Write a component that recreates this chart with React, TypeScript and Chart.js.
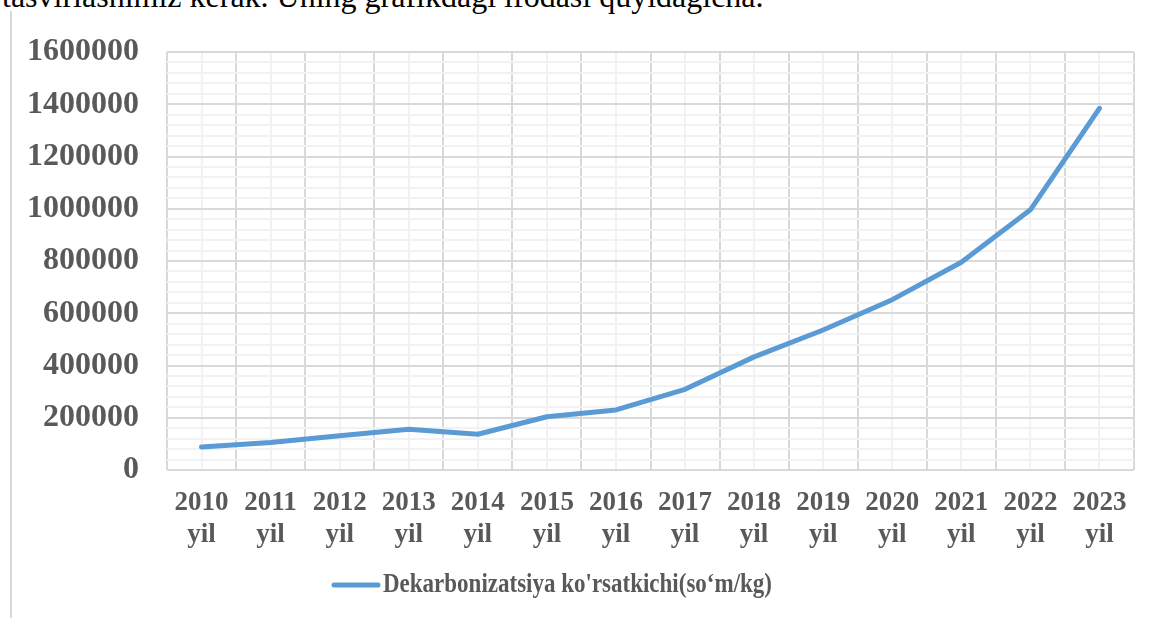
import React, { useEffect, useRef } from 'react';
import { Chart, registerables } from 'chart.js';

Chart.register(...registerables);

// ---- data ----
const years = ['2010', '2011', '2012', '2013', '2014', '2015', '2016', '2017', '2018', '2019', '2020', '2021', '2022', '2023'];
const yearSuffix = 'yil';
const values = [88000, 105000, 131000, 156000, 137000, 204000, 230000, 309000, 433000, 536000, 652000, 795000, 996000, 1384000];
const seriesLabel = "Dekarbonizatsiya ko'rsatkichi(so‘m/kg)";
const yMin = 0;
const yMax = 1600000;
const yMajorStep = 200000;
const yMinorStep = 40000;
const headerText = 'tasvirlashimiz kerak. Uning grafikdagi ifodasi quyidagicha.';

const FONT = '"Liberation Serif", "Times New Roman", serif';
const TEXT = '#595959';
const MAJOR = '#d9d9d9';
const MINOR = '#f2f2f2';
const LINE = '#5B9BD5';

const legendPlugin = {
  id: 'customLegend',
  afterDraw(chart: any) {
    const ctx = chart.ctx;
    const ds = chart.data.datasets[0];
    ctx.save();
    ctx.font = `bold 27px ${FONT}`;
    const rawW = ctx.measureText(ds.label).width;
    const targetW = 389;
    const sx = targetW / rawW;
    const lineW = 46;
    const gap = 5;
    const total = lineW + gap + targetW;
    const cx = 552;
    const y = 585;
    const x0 = cx - total / 2;
    ctx.strokeStyle = ds.borderColor;
    ctx.lineWidth = 5;
    ctx.lineCap = 'round';
    ctx.beginPath();
    ctx.moveTo(x0 + 2, y);
    ctx.lineTo(x0 + lineW, y);
    ctx.stroke();
    ctx.fillStyle = TEXT;
    ctx.textBaseline = 'middle';
    ctx.textAlign = 'left';
    ctx.translate(x0 + lineW + gap, y);
    ctx.scale(sx, 1);
    ctx.fillText(ds.label, 0, 0);
    ctx.restore();
  },
};

export default function App() {
  const ref = useRef<HTMLCanvasElement | null>(null);

  useEffect(() => {
    if (!ref.current) return;
    const chart = new Chart(ref.current, {
      type: 'line',
      data: {
        labels: years.map((y) => [y, yearSuffix]),
        datasets: [
          {
            label: seriesLabel,
            data: values,
            borderColor: LINE,
            backgroundColor: LINE,
            borderWidth: 5,
            pointRadius: 0,
            pointHoverRadius: 0,
            tension: 0,
            borderCapStyle: 'round',
            borderJoinStyle: 'round',
            fill: false,
          },
        ],
      },
      options: {
        responsive: false,
        animation: false,
        events: [],
        layout: { padding: { top: 52, right: 16, left: 0, bottom: 0 } },
        plugins: {
          legend: { display: false },
          tooltip: { enabled: false },
          title: { display: false },
        },
        scales: {
          x: {
            type: 'category',
            position: 'bottom',
            offset: true,
            grid: { offset: true, color: MAJOR, lineWidth: 2, drawTicks: false },
            border: { display: false },
            ticks: {
              autoSkip: false,
              maxRotation: 0,
              minRotation: 0,
              padding: 17,
              color: TEXT,
              font: { family: FONT, size: 27, weight: 'bold', lineHeight: 1.19 },
            },
            afterFit: (s: any) => {
              s.height = 148;
            },
          },
          x2: {
            type: 'category',
            position: 'bottom',
            offset: true,
            grid: { offset: false, color: MINOR, lineWidth: 2, drawTicks: false },
            border: { display: false },
            ticks: { display: false },
            afterFit: (s: any) => {
              s.height = 0;
            },
          },
          y: {
            type: 'linear',
            min: yMin,
            max: yMax,
            grid: {
              drawTicks: false,
              lineWidth: 2,
              color: (c: any) => (c.tick && c.tick.value % yMajorStep === 0 ? MAJOR : MINOR),
            },
            border: { display: false },
            ticks: {
              stepSize: yMinorStep,
              maxTicksLimit: 100,
              autoSkip: false,
              padding: 28,
              color: TEXT,
              font: { family: FONT, size: 32, weight: 'bold' },
              callback: (v: any) => (Number(v) % yMajorStep === 0 ? String(v) : ''),
            },
            afterFit: (s: any) => {
              s.width = 167;
            },
          },
        },
      },
      plugins: [legendPlugin],
    } as any);
    return () => chart.destroy();
  }, []);

  return (
    <div
      style={{
        position: 'fixed',
        left: 0,
        top: 0,
        width: 1150,
        height: 618,
        overflow: 'hidden',
        background: '#ffffff',
      }}
    >
      <div
        style={{
          position: 'absolute',
          left: 2,
          top: -20,
          fontFamily: FONT,
          fontSize: 32,
          lineHeight: '32px',
          whiteSpace: 'nowrap',
          color: '#000000',
        }}
      >
        {headerText}
      </div>
      <div
        style={{
          position: 'absolute',
          left: 10,
          top: 11,
          width: 2,
          height: 607,
          background: MAJOR,
        }}
      />
      <canvas ref={ref} width={1150} height={618} style={{ position: 'absolute', left: 0, top: 0 }} />
    </div>
  );
}
